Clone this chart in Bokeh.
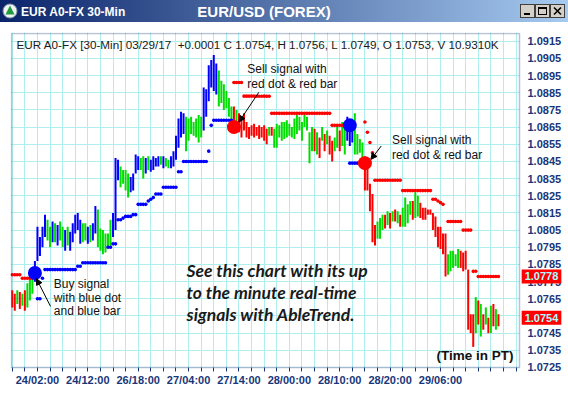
from bokeh.plotting import figure
from bokeh.models import (Range1d, FixedTicker, Label, Arrow, NormalHead, Div,
                          PrintfTickFormatter, ColumnDataSource, BoxAnnotation)
from bokeh.layouts import column
from bokeh.embed import file_html
from bokeh.resources import INLINE

# ---------------- data ----------------
bar_high = [
    1.0770, 1.0768, 1.0770, 1.0769, 1.0768, 1.0770, 1.0774, 1.0778, 1.0780, 1.0787,
    1.0807, 1.0801, 1.0807, 1.0814, 1.0811, 1.0807, 1.0810, 1.0809, 1.0808, 1.0810,
    1.0807, 1.0805, 1.0807, 1.0804, 1.0809, 1.0814, 1.0815, 1.0811, 1.0809, 1.0809,
    1.0807, 1.0808, 1.0809, 1.0819, 1.0817, 1.0806, 1.0805, 1.0803, 1.0803, 1.0811,
    1.0815, 1.0847, 1.0846, 1.0842, 1.0840, 1.0840, 1.0838, 1.0836, 1.0838, 1.0849,
    1.0848, 1.0847, 1.0848, 1.0847, 1.0848, 1.0846, 1.0848, 1.0847, 1.0848, 1.0848,
    1.0848, 1.0847, 1.0846, 1.0848, 1.0851, 1.0860, 1.0870, 1.0874, 1.0873, 1.0871,
    1.0870, 1.0871, 1.0868, 1.0870, 1.0872, 1.0871, 1.0888, 1.0887, 1.0901, 1.0904,
    1.0907, 1.0902, 1.0898, 1.0892, 1.0890, 1.0886, 1.0882, 1.0877, 1.0877, 1.0875,
    1.0873, 1.0869, 1.0873, 1.0868, 1.0865, 1.0866, 1.0867, 1.0865, 1.0866, 1.0865,
    1.0866, 1.0864, 1.0865, 1.0865, 1.0864, 1.0867, 1.0866, 1.0868, 1.0868, 1.0869,
    1.0867, 1.0865, 1.0870, 1.0872, 1.0871, 1.0868, 1.0872, 1.0871, 1.0862, 1.0865,
    1.0864, 1.0862, 1.0859, 1.0865, 1.0861, 1.0863, 1.0860, 1.0857, 1.0859, 1.0866,
    1.0863, 1.0868, 1.0865, 1.0871, 1.0867, 1.0866, 1.0873, 1.0861, 1.0858, 1.0856,
    1.0848, 1.0842, 1.0832, 1.0826, 1.0808, 1.0810, 1.0812, 1.0814, 1.0814, 1.0816,
    1.0815, 1.0816, 1.0817, 1.0816, 1.0814, 1.0818, 1.0824, 1.0820, 1.0822, 1.0822,
    1.0827, 1.0825, 1.0821, 1.0818, 1.0818, 1.0817, 1.0817, 1.0815, 1.0813, 1.0807,
    1.0807, 1.0803, 1.0803, 1.0791, 1.0793, 1.0793, 1.0791, 1.0794, 1.0793, 1.0792,
    1.0793, 1.0782, 1.0756, 1.0756, 1.0766, 1.0764, 1.0762, 1.0756, 1.0760, 1.0754,
    1.0761, 1.0762, 1.0759, 1.0756,
]
bar_low = [
    1.0760, 1.0758, 1.0762, 1.0759, 1.0761, 1.0758, 1.0760, 1.0764, 1.0768, 1.0775,
    1.0787, 1.0790, 1.0795, 1.0801, 1.0799, 1.0795, 1.0798, 1.0798, 1.0796, 1.0799,
    1.0795, 1.0793, 1.0796, 1.0793, 1.0798, 1.0803, 1.0805, 1.0797, 1.0798, 1.0799,
    1.0797, 1.0798, 1.0799, 1.0803, 1.0795, 1.0793, 1.0791, 1.0792, 1.0795, 1.0795,
    1.0801, 1.0805, 1.0834, 1.0830, 1.0832, 1.0828, 1.0824, 1.0827, 1.0828, 1.0838,
    1.0840, 1.0840, 1.0835, 1.0838, 1.0840, 1.0839, 1.0840, 1.0842, 1.0842, 1.0843,
    1.0841, 1.0842, 1.0841, 1.0841, 1.0842, 1.0846, 1.0853, 1.0859, 1.0861, 1.0851,
    1.0857, 1.0861, 1.0860, 1.0859, 1.0856, 1.0859, 1.0863, 1.0871, 1.0880, 1.0888,
    1.0886, 1.0884, 1.0877, 1.0879, 1.0875, 1.0876, 1.0871, 1.0865, 1.0868, 1.0868,
    1.0862, 1.0859, 1.0863, 1.0859, 1.0858, 1.0860, 1.0859, 1.0860, 1.0858, 1.0859,
    1.0857, 1.0855, 1.0860, 1.0860, 1.0853, 1.0853, 1.0859, 1.0857, 1.0858, 1.0859,
    1.0860, 1.0859, 1.0858, 1.0861, 1.0863, 1.0857, 1.0865, 1.0863, 1.0844, 1.0851,
    1.0851, 1.0849, 1.0847, 1.0857, 1.0851, 1.0855, 1.0849, 1.0845, 1.0851, 1.0853,
    1.0851, 1.0854, 1.0849, 1.0857, 1.0854, 1.0856, 1.0849, 1.0849, 1.0850, 1.0847,
    1.0828, 1.0828, 1.0816, 1.0798, 1.0796, 1.0800, 1.0800, 1.0805, 1.0806, 1.0808,
    1.0806, 1.0810, 1.0810, 1.0809, 1.0807, 1.0807, 1.0807, 1.0809, 1.0814, 1.0811,
    1.0812, 1.0813, 1.0812, 1.0811, 1.0811, 1.0814, 1.0814, 1.0805, 1.0801, 1.0795,
    1.0794, 1.0791, 1.0778, 1.0779, 1.0781, 1.0783, 1.0784, 1.0783, 1.0783, 1.0781,
    1.0782, 1.0747, 1.0745, 1.0737, 1.0745, 1.0750, 1.0743, 1.0747, 1.0750, 1.0745,
    1.0745, 1.0749, 1.0747, 1.0749,
]
# b = blue (up-trend), g = green (neutral), r = red (down-trend)
bar_trend = ("rrgrgrgggb" "bbbbggbgbg" "gbgbbbbbgg" "bgbbgggggg" "bbbggggbbb"
             "bggbgbbbbg" "bggbbbbbbg" "ggggggbbbb" "bbggggggrg" "rrrrrrrrrr"
             "rrgrgggggg" "gggggggggg" "rgrgrgrrgg" "rggbbbgggg" "rrrrrgggrg"
             "rgrgrggggr" "ggrrrrrrrr" "rrrgggggrr" "rrrrgrgrgr" "grgr")

# AbleTrend stop dots: (first bar, last bar, level)
blue_stop_runs = [
    (10, 11, 1.0765), (12, 12, 1.0777), (13, 25, 1.0782), (26, 27, 1.0784),
    (28, 37, 1.0786), (38, 39, 1.0795), (40, 41, 1.0797), (42, 43, 1.0811),
    (44, 44, 1.0812), (45, 47, 1.0813), (48, 49, 1.0814), (50, 53, 1.0820),
    (54, 54, 1.0822), (55, 55, 1.0823), (56, 56, 1.0824), (57, 59, 1.0826),
    (60, 65, 1.0830), (66, 67, 1.0839), (68, 77, 1.0845), (78, 78, 1.0851),
    (79, 79, 1.0866), (80, 87, 1.0869), (134, 137, 1.0844),
]
red_stop_runs = [
    (0, 3, 1.0779), (4, 8, 1.0777), (88, 91, 1.0891), (92, 102, 1.0883),
    (103, 126, 1.0873), (127, 131, 1.0866), (140, 140, 1.0868), (141, 141, 1.0862),
    (142, 142, 1.0856), (143, 143, 1.0850), (144, 154, 1.0834), (155, 166, 1.0828),
    (167, 168, 1.0823), (169, 169, 1.0822), (170, 170, 1.0821), (171, 171, 1.0820),
    (173, 178, 1.0810), (179, 182, 1.0805), (183, 184, 1.0781), (185, 193, 1.0778),
]
# signal dots
signal_bars = [9, 88, 134, 140]
signal_levels = [1.0780, 1.0865, 1.0866, 1.0844]
signal_kinds = ["b", "r", "b", "r"]

x_tick_labels = {10: "24/02:00", 30: "24/12:00", 50: "26/18:00", 70: "27/04:00",
                 90: "27/14:00", 110: "28/00:00", 130: "28/10:00", 150: "28/20:00",
                 170: "29/06:00"}
y_ticks = [1.0725, 1.0735, 1.0745, 1.0755, 1.0765, 1.0775, 1.0785, 1.0795, 1.0805,
           1.0815, 1.0825, 1.0835, 1.0845, 1.0855, 1.0865, 1.0875, 1.0885, 1.0895,
           1.0905, 1.0915]
last_stop = 1.0778
last_close = 1.0754
header = ("EUR A0-FX [30-Min] 03/29/17\u00a0\u00a0+0.0001 C 1.0754, H 1.0756, L 1.0749, "
          "O 1.0753, V 10.9310K")

# ---------------- layout constants ----------------
COL = {"b": "#0000ff", "g": "#00dd00", "r": "#ff0000"}
NAVY = "#18367a"
GRID = "#aeeeee"
X_LEFT, X_RIGHT = -0.3, 201.37          # chart area in bar units
Y_BOTTOM, Y_TOP = 1.0725, 1.09195      # chart area in price units

bars = ColumnDataSource(dict(
    x=list(range(len(bar_high))), hi=bar_high, lo=bar_low,
    c=[COL[t] for t in bar_trend[:len(bar_high)]]))

def expand(runs):
    xs, ys = [], []
    for a, b, v in runs:
        for i in range(a, b + 1):
            xs.append(i)
            ys.append(v)
    return xs, ys

# the frame covers the axis areas too; the axes sit at fixed locations
p = figure(width=568, height=374, x_range=Range1d(-0.697, 220.82),
           y_range=Range1d(1.070811, 1.092008), y_axis_location="right",
           output_backend="svg", toolbar_location=None,
           min_border_left=10, min_border_top=10, min_border_right=0,
           min_border_bottom=0)
p.background_fill_color = "white"
p.border_fill_color = "white"
p.outline_line_color = None

xa = p.xaxis[0]
xa.fixed_location = Y_BOTTOM
xa.ticker = FixedTicker(ticks=list(range(0, 201, 5)))
xa.major_label_overrides = {t: x_tick_labels.get(t, "") for t in range(0, 201, 5)}
xa.axis_line_color = None
xa.major_tick_in = 0
xa.major_tick_out = 4
xa.major_tick_line_color = NAVY
xa.minor_tick_line_color = None
xa.major_label_standoff = 3
xa.major_label_text_font = "Liberation Sans"
xa.major_label_text_font_style = "bold"
xa.major_label_text_font_size = "11px"
xa.major_label_text_color = NAVY

ya = p.yaxis[0]
ya.fixed_location = X_RIGHT
ya.ticker = FixedTicker(ticks=y_ticks)
ya.formatter = PrintfTickFormatter(format="%.4f")
ya.axis_line_color = None
ya.major_tick_in = 0
ya.major_tick_out = 0
ya.minor_tick_line_color = None
ya.major_label_standoff = 8
ya.major_label_text_font = "Liberation Sans"
ya.major_label_text_font_style = "bold"
ya.major_label_text_font_size = "11px"
ya.major_label_text_color = NAVY

p.xgrid.grid_line_color = GRID
p.ygrid.grid_line_color = GRID

# blank out the grid outside the chart area (axis areas)
p.add_layout(BoxAnnotation(left=X_RIGHT, fill_color="white", fill_alpha=1,
                           line_color=None, level="underlay"))
p.add_layout(BoxAnnotation(top=Y_BOTTOM, fill_color="white", fill_alpha=1,
                           line_color=None, level="underlay"))

# price bars
p.segment(x0="x", y0="lo", x1="x", y1="hi", source=bars, line_color="c", line_width=2)

# stop dots
bx, by = expand(blue_stop_runs)
rx, ry = expand(red_stop_runs)
p.scatter(bx, by, size=3.6, fill_color=COL["b"], line_color=None)
p.scatter(rx, ry, size=3.6, fill_color=COL["r"], line_color=None)
p.scatter(signal_bars, signal_levels, size=14,
          fill_color=[COL[k] for k in signal_kinds], line_color=None)

# chart border
p.add_layout(BoxAnnotation(left=X_LEFT, right=X_RIGHT, bottom=Y_BOTTOM, top=Y_TOP,
                           fill_color=None, line_color=NAVY, line_width=1.5))

# header
p.add_layout(Label(x=1.7, y=1.09131, text=header, text_baseline="middle",
                   text_font="Liberation Sans", text_font_size="11.7px",
                   text_color="#1a1a1a"))

def note(x, y, txt):
    p.add_layout(Label(x=x, y=y, text=txt, text_baseline="middle",
                       text_font="Liberation Sans", text_font_size="12px",
                       text_color="#111111"))

note(16.5, 1.07734, "Buy signal")
note(16.5, 1.07654, "with blue dot")
note(16.5, 1.07579, "and blue bar")
note(93.3, 1.08989, "Sell signal with")
note(93.3, 1.08902, "red dot & red bar")
note(150.8, 1.08572, "Sell signal with")
note(150.8, 1.08490, "red dot & red bar")

for xs_, ys_, xe, ye in [(15.2, 1.07606, 9.6, 1.07767),
                         (97.9, 1.08853, 90.0, 1.08680),
                         (146.5, 1.08540, 142.4, 1.08462)]:
    p.add_layout(Arrow(end=NormalHead(size=6, fill_color="black", line_color="black"),
                       x_start=xs_, y_start=ys_, x_end=xe, y_end=ye,
                       line_color="black", line_width=1))

for y, t in [(1.07815, "See this chart with its up"),
             (1.07687, "to the minute real-time"),
             (1.07560, "signals with AbleTrend.")]:
    p.add_layout(Label(x=69.2, y=y, text=t, text_baseline="middle",
                       text_font="Lato", text_font_style="bold italic",
                       text_font_size="17.5px", text_color="#1a1a1a"))

p.add_layout(Label(x=199, y=1.07321, text="(Time in PT)", text_align="right",
                   text_baseline="middle", text_font="Liberation Sans",
                   text_font_style="bold", text_font_size="13.5px", text_color="#111111"))

# price flags on the axis
for v in [last_stop, last_close]:
    p.add_layout(Label(x=210.1, y=v, text="%.4f" % v,
                       text_align="center", text_baseline="middle",
                       text_font="Liberation Sans", text_font_style="bold",
                       text_font_size="11px", text_color="#a8ffff",
                       background_fill_color="#ff0000", padding=3))

title_svg = """
<svg width="568" height="22" xmlns="http://www.w3.org/2000/svg" style="display:block">
<defs><linearGradient id="tbg" x1="0" x2="1" y1="0" y2="0">
<stop offset="0" stop-color="#0a246a"/><stop offset="1" stop-color="#a6caf0"/>
</linearGradient></defs>
<rect x="0" y="0" width="568" height="22" fill="url(#tbg)"/>
<circle cx="10" cy="11" r="7" fill="#eef4f4" stroke="#7d94a8" stroke-width="1"/>
<polygon points="10,5.5 14.5,14.5 5.5,14.5" fill="#1f9a3c"/>
<text x="21" y="15.5" font-family="Liberation Sans" font-weight="bold" font-size="12" fill="#ffffff">EUR A0-FX 30-Min</text>
<text x="264" y="16.5" text-anchor="middle" font-family="Liberation Sans" font-weight="bold" font-size="15" fill="#ffffff">EUR/USD (FOREX)</text>
<g stroke="#404040" stroke-width="1">
<rect x="520.5" y="4.5" width="14" height="13" fill="#d4d0c8"/>
<rect x="535.5" y="4.5" width="14" height="13" fill="#d4d0c8"/>
<rect x="550.5" y="4.5" width="14" height="13" fill="#d4d0c8"/>
</g>
<rect x="524" y="13" width="6" height="2" fill="#000"/>
<rect x="538.5" y="7.5" width="8" height="7" fill="none" stroke="#000" stroke-width="1"/>
<rect x="538.5" y="7.5" width="8" height="1.5" fill="#000"/>
<path d="M554,7.5 L561,14.5 M561,7.5 L554,14.5" stroke="#000" stroke-width="1.6"/>
</svg>
"""
title = Div(text=title_svg, width=568, height=22, margin=0)

layout = column(title, p, spacing=0, margin=0)
open("out.html", "w").write(file_html(layout, INLINE))
